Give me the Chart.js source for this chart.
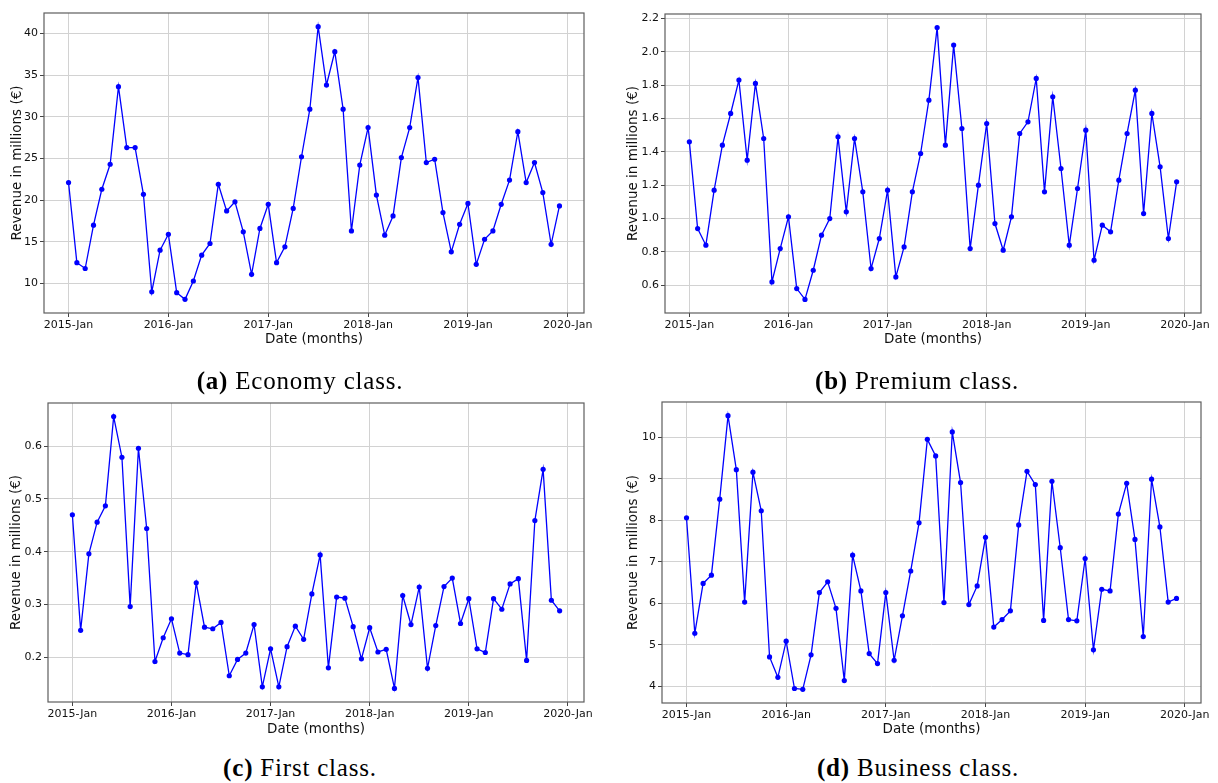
<!DOCTYPE html>
<html>
<head>
    <title>Monthly Revenue per Class</title>
    <script src="https://cdn.jsdelivr.net/npm/chart.js"></script>
    <style>
        body { margin: 0; background: #fff; width: 1218px; height: 783px; position: relative; overflow: hidden; }
        .panel { position: absolute; }
        .caption { position: absolute; width: 600px; text-align: center; font-family: 'Liberation Serif', serif; font-size: 25px; letter-spacing: 0.8px; line-height: 30px; color: #000; }
    </style>
</head>
<body>
    <div class="panel" style="left:0px;top:0px;width:600px;height:352px"><canvas id="chartA"></canvas></div>
    <div class="panel" style="left:610px;top:0px;width:606px;height:352px"><canvas id="chartB"></canvas></div>
    <div class="panel" style="left:0px;top:390px;width:600px;height:352px"><canvas id="chartC"></canvas></div>
    <div class="panel" style="left:610px;top:390px;width:606px;height:352px"><canvas id="chartD"></canvas></div>

    <div class="caption" style="left:0px;top:366px"><b>(a)</b> Economy class.</div>
    <div class="caption" style="left:617px;top:366px"><b>(b)</b> Premium class.</div>
    <div class="caption" style="left:0px;top:753px"><b>(c)</b> First class.</div>
    <div class="caption" style="left:618px;top:753px"><b>(d)</b> Business class.</div>

    <script>
        // months Jan 2015 .. Dec 2019 (x = month index)
        var years = [2015, 2016, 2017, 2018, 2019];
        var monthNames = ['Jan', 'Feb', 'Mar', 'Apr', 'May', 'Jun', 'Jul', 'Aug', 'Sep', 'Oct', 'Nov', 'Dec'];
        var months = [];
        years.forEach(function(y) {
            monthNames.forEach(function(m) { months.push(y + '-' + m); });
        });

        var xTickLabels = ['2015-Jan', '2016-Jan', '2017-Jan', '2018-Jan', '2019-Jan', '2020-Jan'];

        // revenue in millions of euros
        var economy = [22.1, 12.5, 11.8, 17.0, 21.3, 24.3, 33.6, 26.3, 26.3, 20.7, 9.0, 14.0,
                       15.9, 8.9, 8.1, 10.3, 13.4, 14.8, 21.9, 18.7, 19.8, 16.2, 11.1, 16.6,
                       19.5, 12.5, 14.4, 19.0, 25.2, 30.9, 40.8, 33.8, 37.8, 30.9, 16.3, 24.2,
                       28.7, 20.6, 15.8, 18.1, 25.1, 28.7, 34.7, 24.5, 24.9, 18.5, 13.8, 17.1,
                       19.6, 12.3, 15.3, 16.3, 19.5, 22.4, 28.2, 22.1, 24.5, 20.9, 14.7, 19.3];

        var premium = [1.46, 0.94, 0.84, 1.17, 1.44, 1.63, 1.83, 1.35, 1.81, 1.48, 0.62, 0.82,
                       1.01, 0.58, 0.515, 0.69, 0.90, 1.00, 1.49, 1.04, 1.48, 1.16, 0.70, 0.88,
                       1.17, 0.65, 0.83, 1.16, 1.39, 1.71, 2.145, 1.44, 2.04, 1.54, 0.82, 1.20,
                       1.57, 0.97, 0.81, 1.01, 1.51, 1.58, 1.84, 1.16, 1.73, 1.30, 0.84, 1.18,
                       1.53, 0.75, 0.96, 0.92, 1.23, 1.51, 1.77, 1.03, 1.63, 1.31, 0.88, 1.22];

        var first = [0.470, 0.251, 0.396, 0.456, 0.487, 0.656, 0.579, 0.296, 0.596, 0.444, 0.192, 0.237,
                     0.273, 0.208, 0.205, 0.341, 0.257, 0.254, 0.266, 0.165, 0.196, 0.208, 0.262, 0.144,
                     0.216, 0.144, 0.220, 0.259, 0.234, 0.320, 0.394, 0.180, 0.314, 0.312, 0.258, 0.197,
                     0.256, 0.210, 0.215, 0.141, 0.317, 0.262, 0.333, 0.179, 0.260, 0.334, 0.350, 0.264,
                     0.311, 0.216, 0.209, 0.311, 0.291, 0.339, 0.349, 0.194, 0.459, 0.556, 0.308, 0.288];

        var business = [8.06, 5.28, 6.48, 6.68, 8.51, 10.52, 9.22, 6.03, 9.16, 8.23, 4.71, 4.22,
                        5.09, 3.95, 3.93, 4.76, 6.26, 6.52, 5.88, 4.14, 7.16, 6.30, 4.79, 4.55,
                        6.26, 4.63, 5.70, 6.78, 7.94, 9.95, 9.55, 6.02, 10.13, 8.91, 5.97, 6.42,
                        7.59, 5.43, 5.61, 5.82, 7.89, 9.18, 8.86, 5.59, 8.94, 7.34, 5.61, 5.58,
                        7.08, 4.88, 6.34, 6.30, 8.15, 8.89, 7.54, 5.20, 8.99, 7.84, 6.03, 6.12];

        var economyTicks = ['10', '15', '20', '25', '30', '35', '40'];
        var premiumTicks = ['0.6', '0.8', '1.0', '1.2', '1.4', '1.6', '1.8', '2.0', '2.2'];
        var firstTicks = ['0.2', '0.3', '0.4', '0.5', '0.6'];
        var businessTicks = ['4', '5', '6', '7', '8', '9', '10'];

        // axes box drawn on top, like matplotlib spines
        var frame = {
            id: 'frame',
            afterDatasetsDraw: function(chart) {
                var a = chart.chartArea, c = chart.ctx;
                c.save();
                c.strokeStyle = '#5e5e5e';
                c.lineWidth = 1.2;
                c.strokeRect(a.left, a.top, a.right - a.left, a.bottom - a.top);
                c.restore();
            }
        };

        var tickFont = { family: 'DejaVu Sans', size: 11 };
        var labelFont = { family: 'DejaVu Sans', size: 13.5 };

        function makeChart(canvasId, values, yTicks, box) {
            var lo = Math.min.apply(null, values), hi = Math.max.apply(null, values);
            var pad = (hi - lo) * 0.05;
            var n = months.length;
            var points = values.map(function(v, i) { return { x: i, y: v }; });

            new Chart(document.getElementById(canvasId).getContext('2d'), {
                type: 'line',
                data: {
                    datasets: [{
                        data: points,
                        borderColor: '#0000ff',
                        backgroundColor: '#0000ff',
                        borderWidth: 1.3,
                        pointRadius: 2.6,
                        pointBorderWidth: 0,
                        tension: 0
                    }]
                },
                options: {
                    responsive: true,
                    maintainAspectRatio: false,
                    animation: false,
                    layout: { padding: { top: box.top, right: box.right, left: 0, bottom: 0 } },
                    plugins: { legend: { display: false }, tooltip: { enabled: false } },
                    scales: {
                        x: {
                            type: 'linear',
                            min: -(n - 1) * 0.05,
                            max: (n - 1) * 1.05,
                            afterBuildTicks: function(axis) {
                                axis.ticks = xTickLabels.map(function(t, i) { return { value: i * 12 }; });
                            },
                            afterFit: function(axis) { axis.height = box.xh; },
                            ticks: {
                                callback: function(v, i) { return xTickLabels[i]; },
                                font: tickFont, color: '#111', padding: 2,
                                maxRotation: 0, autoSkip: false
                            },
                            grid: { color: '#d2d2d2', tickColor: '#444', tickLength: 4, lineWidth: 1 },
                            border: { display: false },
                            title: {
                                display: true, text: 'Date (months)', font: labelFont, color: '#111',
                                padding: { top: 4, bottom: 4 }
                            }
                        },
                        y: {
                            type: 'linear',
                            min: lo - pad,
                            max: hi + pad,
                            afterBuildTicks: function(axis) {
                                axis.ticks = yTicks.map(function(t) { return { value: parseFloat(t) }; });
                            },
                            afterFit: function(axis) { axis.width = box.yw; },
                            ticks: {
                                callback: function(v, i) { return yTicks[i]; },
                                font: tickFont, color: '#111', padding: 2
                            },
                            grid: { color: '#d2d2d2', tickColor: '#444', tickLength: 4, lineWidth: 1 },
                            border: { display: false },
                            title: {
                                display: true, text: 'Revenue in millions (€)', font: labelFont, color: '#111',
                                padding: { top: box.ytp, bottom: box.ytp }
                            }
                        }
                    }
                },
                plugins: [frame]
            });
        }

        makeChart('chartA', economy, economyTicks, { top: 13, right: 16, yw: 44, xh: 39, ytp: 9.5 });
        makeChart('chartB', premium, premiumTicks, { top: 14, right: 15, yw: 55, xh: 39, ytp: 15 });
        makeChart('chartC', first, firstTicks, { top: 13, right: 16, yw: 48, xh: 40, ytp: 8.5 });
        makeChart('chartD', business, businessTicks, { top: 12, right: 15, yw: 52, xh: 39, ytp: 15 });
    </script>
</body>
</html>
